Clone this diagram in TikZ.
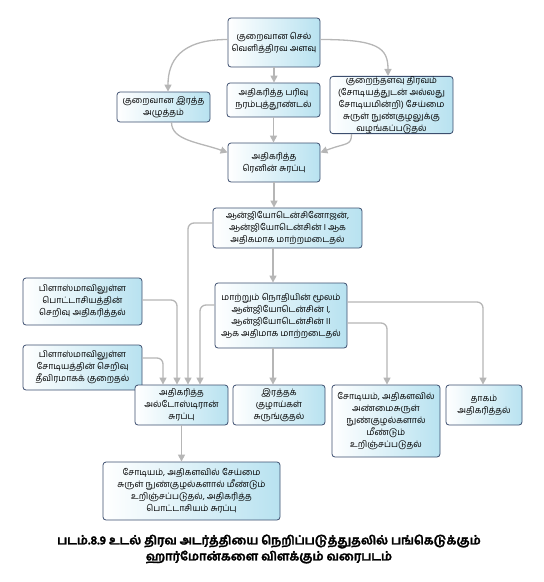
\documentclass[tikz,border=0pt]{standalone}
\usepackage{fontspec}
\newfontfamily\tamil[Script=Tamil]{Hind Madurai}
\newfontfamily\tamilcap[Script=Tamil,FakeBold=2.2]{Hind Madurai}
\usetikzlibrary{arrows.meta}
\definecolor{boxblue}{RGB}{184,226,240}
\definecolor{boxline}{RGB}{60,78,110}
\definecolor{conn}{RGB}{182,182,182}
\tikzset{
  bx/.style={draw=boxline, line width=0.8pt, rounded corners=3pt,
    left color=white, right color=boxblue, align=center, inner sep=0pt,
    font=\tamil\fontsize{8.8}{12}\selectfont},
  cn/.style={draw=conn, line width=1.3pt, rounded corners=6pt,
    -{Triangle[length=7pt,width=7pt]}, conn}
}
\begin{document}
\begin{tikzpicture}[x=1pt,y=-1pt]
\useasboundingbox (0,0) rectangle (544,582);
\node[bx, minimum width=92pt, minimum height=49pt] (b1) at (274,42.5) {குறைவான செல்\\வெளித்திரவ அளவு};
\node[bx, minimum width=93pt, minimum height=30pt] (b2) at (163.5,107) {குறைவான இரத்த\\அழுத்தம்};
\node[bx, minimum width=93pt, minimum height=34pt] (b3) at (273.5,100) {அதிகரித்த பரிவு\\நரம்புத்தூண்டல்};
\node[bx, minimum width=123pt, minimum height=54pt] (b4) at (391.5,105) {குறைந்தளவு திரவம்\\(சோடியத்துடன் அல்லது\\சோடியமின்றி) சேய்மை\\சுருள் நுண்குழலுக்கு\\வழங்கப்படுதல்};
\node[bx, minimum width=92pt, minimum height=39pt] (b5) at (274,162.5) {அதிகரித்த\\ரெனின் சுரப்பு};
\node[bx, minimum width=149pt, minimum height=40pt] (b6) at (287.5,228) {ஆன்ஜியோடென்சினோஜன்,\\ஆன்ஜியோடென்சின் I ஆக\\அதிகமாக மாற்றமடைதல்};
\node[bx, minimum width=119pt, minimum height=47pt] (b7) at (82.5,301.5) {பிளாஸ்மாவிலுள்ள\\பொட்டாசியத்தின்\\செறிவு அதிகரித்தல்};
\node[bx, minimum width=119pt, minimum height=45pt] (b8) at (82.5,367.5) {பிளாஸ்மாவிலுள்ள\\சோடியத்தின் செறிவு\\தீவிரமாகக் குறைதல்};
\node[bx, minimum width=132pt, minimum height=65pt] (b9) at (281,315.5) {மாற்றும் நொதியின் மூலம்\\ஆன்ஜியோடென்சின் I,\\ஆன்ஜியோடென்சின் II\\ஆக அதிமாக மாற்றடைதல்};
\node[bx, minimum width=93pt, minimum height=40pt] (b10) at (181.5,405) {அதிகரித்த\\அல்டோஸ்டிரான்\\சுரப்பு};
\node[bx, minimum width=92pt, minimum height=40pt] (b11) at (279,405) {இரத்தக்\\குழாய்கள்\\சுருங்குதல்};
\node[bx, minimum width=108pt, minimum height=72pt] (b12) at (386,421) {சோடியம், அதிகளவில்\\அண்மைசுருள்\\நுண்குழல்களால்\\மீண்டும்\\உறிஞ்சப்படுதல்};
\node[bx, minimum width=76pt, minimum height=40pt] (b13) at (484,405) {தாகம்\\அதிகரித்தல்};
\node[bx, minimum width=177pt, minimum height=58pt] (b14) at (191.5,491) {சோடியம், அதிகளவில் சேய்மை\\சுருள் நுண்குழல்களால் மீண்டும்\\உறிஞ்சப்படுதல், அதிகரித்த\\பொட்டாசியம் சுரப்பு};
\node[font=\tamilcap\fontsize{12}{16}\selectfont\bfseries, align=center] (cap) at (269,549) {படம்.8.9 உடல் திரவ அடர்த்தியை நெறிப்படுத்துதலில் பங்கெடுக்கும்\\ஹார்மோன்களை விளக்கும் வரைபடம்};
% connectors
\draw[cn] ([yshift=3pt]b1.west) .. controls +(-48,0) and +(0,-30) .. ([xshift=4.5pt]b2.north);
\draw[cn] ([yshift=3pt]b1.east) .. controls +(58,0) and +(0,-28) .. ([xshift=-3.5pt]b4.north);
\draw[cn] (b1.south) -- (b1.south |- b3.north);
\draw[cn] ([xshift=8pt]b2.south) .. controls +(0,18) and +(-28,-10) .. ([yshift=10pt]b5.west);
\draw[cn] ([xshift=-40pt]b4.south) .. controls +(0,12) and +(26,-10) .. ([yshift=10pt]b5.east);
\draw[cn] (b3.south) -- (b3.south |- b5.north);
\draw[cn] (b5.south) -- (b5.south |- b6.north);
\draw[cn] ([xshift=-14.5pt]b6.south) -- ([xshift=-14.5pt]b6.south |- b9.north);
\draw[cn] ([yshift=5pt]b6.west) -| ([xshift=6.5pt]b10.north);
\draw[cn] ([yshift=1.5pt]b7.east) -| ([xshift=-4.5pt]b10.north);
\draw[cn] ([yshift=9.5pt]b8.east) -| ([xshift=-18.5pt]b10.north);
\draw[cn] ([yshift=10.5pt]b9.west) -| ([xshift=18.5pt]b10.north);
\draw[cn] ([xshift=-8pt]b9.south) -- ([xshift=-8pt]b9.south |- b11.north);
\draw[cn] ([yshift=13.5pt]b9.east) -| ([xshift=-1pt]b13.north);
\draw[cn] ([yshift=-7.5pt]b9.east) -| ([xshift=1pt]b12.north);
\draw[cn] (b10.south) -- (b10.south |- b14.north);
\end{tikzpicture}
\end{document}
